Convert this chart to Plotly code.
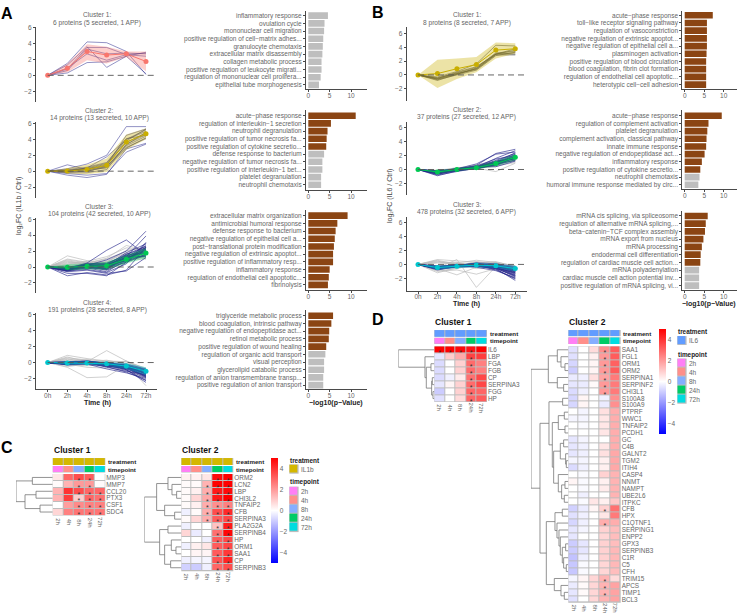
import plotly.graph_objects as go

W, H = 740, 615
TIMES = ["0h", "2h", "4h", "8h", "24h", "72h"]
HCOLS = ["2h", "4h", "8h", "24h", "72h"]
NAVY = "rgba(40,40,140,0.72)"
GRAY = "rgba(185,185,185,0.75)"
DGRAY = "rgba(70,70,70,0.8)"
BROWN = "#8B4513"
LGRAY = "#BEBEBE"
TXT = "#666666"
FONT = "Liberation Sans"
TP_COLORS = ["#FF7FF5", "#FF8F8A", "#85AEFF", "#00CC66", "#00DCE0"]
IL1B = "#D4B800"
IL6 = "#619CFF"

# ---------- line panels: protein trajectories ----------
A1_title = ["Cluster 1:", "6 proteins (5 secreted, 1 APP)"]
A1_app = [[0,1.5,4.2,4.1,3.0,0.1],[0,1.3,3.6,1.0,2.4,0.2],[0,0.3,1.6,1.7,2.4,2.9],
          [0,0.8,3.5,3.5,2.6,2.4],[0,0.9,2.7,1.9,2.6,2.8],[0,0.6,3.3,2.7,2.8,2.7]]
A1_other = []
A1_mean = [0,0.9,3.0,2.55,2.7,1.75]
A1_up = [0,1.45,3.9,3.6,3.0,3.0]
A1_lo = [0,0.4,1.9,1.5,2.3,0.5]

A2_title = ["Cluster 2:", "14 proteins (13 secreted, 10 APP)"]
A2_app = [[0,.3,.9,2.0,5.6,5.6],[0,.8,.2,.7,4.5,5.3],[0,-.5,-.8,-.4,2.8,3.5],[0,-.3,-.5,-.3,2.4,3.4],
          [0,.1,.4,1.8,4.0,5.2],[0,0,.2,.8,3.6,4.8],[0,-.1,0,.5,3.2,4.4],[0,.2,.5,1.1,4.0,5.0],
          [0,.0,.3,.6,3.0,4.1],[0,-.2,-.2,.2,3.4,4.6]]
A2_other = [[0,.1,.3,.9,3.8,5.3],[0,-.1,.0,.6,3.3,4.9],[0,0,.4,1.0,4.1,4.5],[0,.1,.2,.4,2.9,4.2]]
A2_mean = [0,0.03,.2,.75,3.65,4.7]
A2_up = [0,.4,.8,1.6,4.6,5.4]
A2_lo = [0,-.3,-.4,-.1,2.7,4.0]

A3_title = ["Cluster 3:", "104 proteins (42 secreted, 10 APP)"]
A3_other = [[0,1.4,.8,.5,1.5,2.0],[0,1.0,.6,.3,1.2,1.7],[0,.7,.4,.8,1.8,1.5],[0,.5,.7,1.3,2.4,2.2],
            [0,.3,.5,1.0,2.0,2.5],[0,.6,.2,-.2,.9,1.3],[0,-.2,.3,.7,1.7,1.3],[0,.2,-.1,.1,1.1,1.9],
            [0,.4,.6,.4,1.4,1.1],[0,-.4,-.2,.3,.8,1.4],[0,.1,.1,-.4,.6,1.6],[0,.8,.3,.6,2.1,2.4],
            [0,.9,.5,1.1,2.7,2.1],[0,.2,.4,-.1,1.0,1.0]]
A3_app = [[0,-.2,.5,2.1,3.4,1.5],[0,-.5,.2,.9,2.0,4.5],[0,-1.1,-.7,-1.0,-.4,2.5],[0,-.8,-.8,-1.1,.6,3.1],
          [0,-.3,.1,.2,1.3,3.9],[0,-.5,-.3,-.7,.4,3.0],[0,-.2,.0,-.3,1.0,2.4],[0,-.4,.3,.0,.8,2.2],
          [0,-.1,.4,.4,1.6,2.6],[0,-.6,-.4,-.8,-.5,1.2],[0,-.3,.2,-.2,1.2,2.0],[0,-.2,.1,.1,1.5,1.8],
          [0,-.4,.0,-.4,.7,1.6],[0,.0,.3,.3,1.1,1.4],[0,-.5,-.1,-.6,.9,2.3],[0,-.1,.2,.2,1.8,2.9],
          [0,-.3,.4,.5,1.4,2.2],[0,-.2,-.2,-.1,.6,1.5],[0,-.2,.2,.0,1.1,2.1],[0,-.3,.3,.1,.9,1.9],
          [0,-.1,0,-.2,1.4,1.7],[0,-.4,.1,.3,1.0,2.5],[0,-.2,.3,-.3,1.3,1.3],[0,-.1,.1,.2,.8,1.6],
          [0,-.3,0,0,1.6,2.4],[0,-.2,.2,.4,1.2,2.7]]
A3_mean = [0,-.03,.08,.15,.97,1.75]
A3_up = [0,.35,.45,.65,1.5,2.4]
A3_lo = [0,-.4,-.3,-.35,.45,1.1]

A4_title = ["Cluster 4:", "191 proteins (28 secreted, 8 APP)"]
A4_other = [[0,.9,.5,.2,.1,-1.0],[0,-.6,-1.9,-1.8,-.3,-2.9],[0,.2,.1,1.5,.2,-1.0],[0,.6,.3,-.1,.2,-.8],
            [0,.7,.1,.3,-.2,-1.3],[0,.4,.4,.1,.1,-.7],[0,-.3,-.4,-.3,-.5,-2.2],[0,.3,.2,-.4,-.6,-1.9],
            [0,-.5,-.2,.2,-.1,-.9],[0,.5,-.1,-.2,-.4,-1.5],[0,-.2,-.6,-.7,-.2,-1.1]]
A4_app = [[0,-.1,.1,-.2,-.6,-1.8],[0,0,.2,-.1,-.9,-2.5],[0,-.2,0,-.5,-1.2,-2.2],[0,-.1,-.1,-.4,-.7,-1.7],
          [0,.1,.2,-.1,-.5,-1.4],[0,-.3,-.2,-.8,-1.3,-2.0],[0,0,.1,0,-.4,-1.2],[0,-.1,0,-.3,-.8,-1.6],
          [0,-.2,-.1,-.2,-.5,-1.1],[0,.1,.1,-.1,-.3,-.9],[0,-.1,.1,-.4,-1.0,-1.9],[0,0,0,-.2,-.6,-1.3],
          [0,-.2,.1,-.6,-1.1,-1.5],[0,-.1,0,-.1,-.2,-.8],[0,-.3,-.1,-.3,-.9,-2.3],[0,0,.1,-.2,-.7,-1.0],
          [0,-.1,-.2,-.5,-.6,-1.6],[0,.1,0,-.3,-.4,-1.4],[0,0,.1,-.1,-.5,-1.0],[0,-.1,.1,-.2,-.3,-1.2],
          [0,-.1,0,-.2,-.4,-1.5],[0,0,-.1,-.3,-.5,-1.7],[0,-.2,0,-.1,-.6,-1.3],[0,-.1,-.1,0,-.4,-.9],
          [0,0,.1,-.3,-.8,-1.8],[0,-.2,-.1,-.4,-.7,-1.4]]
A4_mean = [0,-.05,-.05,-.15,-.45,-1.1]
A4_up = [0,.2,.15,.1,-.1,-.6]
A4_lo = [0,-.3,-.25,-.4,-.8,-1.6]

B1_title = ["Cluster 1:", "8 proteins (8 secreted, 7 APP)"]
B1_app = [[0,-.4,.2,.9,3.0,3.8],[0,-.7,.0,.7,2.8,3.3],[0,-.6,.1,.9,3.0,3.6],[0,-.3,.5,1.6,4.3,4.2],
          [0,-.5,.3,1.1,3.1,3.0],[0,-.6,.2,.8,2.9,2.9],[0,-.8,.1,1.0,3.2,3.4]]
B1_other = [[0,-.5,.4,1.2,3.0,3.2]]
B1_mean = [0,.2,.9,1.5,3.6,3.8]
B1_up = [0,2.2,2.4,2.6,4.7,4.6]
B1_lo = [0,-1.9,-.6,.4,2.4,3.1]

B2_title = ["Cluster 2:", "37 proteins (27 secreted, 12 APP)"]
B2_other = [[0,-.2,.1,.5,1.0,1.2],[0,-.4,.2,.4,.8,1.4],[0,-.1,.2,.7,1.2,1.6],[0,-.6,-.2,.1,.5,1.0],
            [0,-.3,.3,.2,.4,1.3],[0,-.5,0,.4,.9,1.9],[0,-.2,-.1,.2,-.3,.9],[0,-.7,-.1,.3,.7,1.5]]
B2_app = [[0,-.5,.0,.6,2.3,2.9],[0,-.6,-.2,.3,1.6,2.7],[0,-.3,.1,.8,2.2,2.5],[0,-.8,-.3,.2,1.0,2.2],
          [0,-.4,0,.3,1.1,1.9],[0,-.5,.1,.4,1.3,2.3],[0,-.3,-.1,.1,.7,1.6],[0,-.7,-.1,.2,.9,1.7],
          [0,-.4,.1,.5,1.5,2.0],[0,-.6,0,.2,.6,1.4],[0,-.2,.1,.3,.9,1.8],[0,-.9,-.2,.1,.8,2.1],
          [0,-.5,-.1,.3,1.2,1.5],[0,-.4,.0,.4,.4,1.2],[0,-.3,0,.2,.7,1.9],[0,-.4,-.1,.3,1.0,1.7],
          [0,-.5,0,.1,.8,1.3],[0,-.2,.1,.4,1.1,2.4],[0,-.6,-.1,.2,.9,1.6],[0,-.3,.1,.3,.6,1.8]]
B2_mean = [0,-.35,0,.25,.85,1.75]
B2_up = [0,-.1,.2,.5,1.2,2.2]
B2_lo = [0,-.6,-.2,0,.5,1.3]

B3_title = ["Cluster 3:", "478 proteins (32 secreted, 6 APP)"]
B3_other = [[0,.7,.5,.3,.2,-.6],[0,-.5,.7,-3.3,-.3,-.9],[0,-.6,-1.5,-.4,-.5,-1.0],[0,.4,.2,.6,.3,-.2],
            [0,-1.2,-.5,-.3,.1,-.4],[0,.5,-.3,.4,0,-.5],[0,-1.0,-.8,-1.4,-.6,-1.1],[0,.2,.1,.2,.4,-.3],
            [0,-.9,-.6,.1,.2,-.8],[0,.3,.3,-.6,-.4,-.2],[0,-.7,.2,-.2,.3,-1.3],[0,.6,0,.1,-.2,-.7]]
B3_app = [[0,-.3,-.1,-.2,-.6,-2.3],[0,-.5,-.3,-.1,-.8,-2.0],[0,-.7,-.4,-.3,-.5,-1.8],[0,-.4,-.2,.1,-.4,-1.5],
          [0,-.6,-.1,-.2,-.7,-2.1],[0,-.4,.0,-.1,-.3,-1.2],[0,-.5,-.2,.2,-.2,-1.0],[0,-.8,-.3,-.2,-.4,-1.6],
          [0,-.3,-.3,-.3,-.1,-.8],[0,-.4,-.2,-.1,.0,-.5],[0,-.6,-.4,.1,-.3,-1.4],[0,-.5,-.1,-.4,-.9,-1.9],
          [0,-.2,-.2,.2,.1,-.3],[0,-.7,-.3,0,-.2,-1.1],[0,-.4,0,-.2,-.5,-1.7],[0,-.6,-.2,-.1,-.1,-.6],
          [0,-.4,-.2,-.1,-.3,-.9],[0,-.5,-.3,0,-.4,-1.3],[0,-.6,-.2,-.2,-.2,-.7],[0,-.3,-.1,.1,-.3,-1.0],
          [0,-.5,-.2,0,-.6,-1.6],[0,-.4,-.3,-.2,-.1,-.4],[0,-.6,-.1,.1,-.2,-.8],[0,-.3,-.3,-.1,-.5,-1.2]]
B3_mean = [0,-.45,-.25,-.1,-.2,-.6]
B3_up = [0,-.15,.0,.2,.1,-.2]
B3_lo = [0,-.75,-.5,-.4,-.5,-1.0]

# ---------- enrichment bars ----------
A1_terms = ["inflammatory response","ovulation cycle","mononuclear cell migration","positive regulation of cell−matrix adhes...",
            "granulocyte chemotaxis","extracellular matrix disassembly","collagen metabolic process",
            "positive regulation of leukocyte migrati...","regulation of mononuclear cell prolifera...","epithelial tube morphogenesis"]
A1_vals = [4.6,3.8,3.7,3.5,3.4,3.3,3.1,3.1,2.9,2.5]
A1_sig = 0
A2_terms = ["acute−phase response","regulation of interleukin−1 secretion","neutrophil degranulation",
            "positive regulation of tumor necrosis fa...","positive regulation of cytokine secretio...","defense response to bacterium",
            "negative regulation of tumor necrosis fa...","positive regulation of interleukin−1 bet...","platelet degranulation","neutrophil chemotaxis"]
A2_vals = [11.1,5.3,4.5,4.3,4.2,3.7,3.3,3.3,3.0,3.0]
A2_sig = 5
A3_terms = ["extracellular matrix organization","antimicrobial humoral response","defense response to bacterium",
            "negative regulation of epithelial cell a...","post−translational protein modification","negative regulation of extrinsic apoptot...",
            "positive regulation of inflammatory resp...","inflammatory response","regulation of endothelial cell apoptotic...","fibrinolysis"]
A3_vals = [9.2,6.8,6.4,6.2,6.0,5.8,5.8,5.0,4.8,4.6]
A3_sig = 10
A4_terms = ["triglyceride metabolic process","blood coagulation, intrinsic pathway","negative regulation of endopeptidase act...",
            "retinol metabolic process","positive regulation of wound healing","regulation of organic acid transport","visual perception",
            "glycerolipid catabolic process","regulation of anion transmembrane transp...","positive regulation of anion transport"]
A4_vals = [5.8,5.4,4.9,4.8,4.2,4.0,3.7,3.7,3.5,3.5]
A4_sig = 5
B1_terms = ["acute−phase response","toll−like receptor signaling pathway","regulation of vasoconstriction",
            "negative regulation of extrinsic apoptot...","negative regulation of epithelial cell a...","plasminogen activation",
            "positive regulation of blood circulation","blood coagulation, fibrin clot formation","regulation of endothelial cell apoptotic...","heterotypic cell−cell adhesion"]
B1_vals = [7.2,5.7,5.7,5.7,5.7,5.6,5.5,5.5,5.5,5.5]
B1_sig = 10
B2_terms = ["acute−phase response","regulation of complement activation","platelet degranulation","complement activation, classical pathway",
            "innate immune response","negative regulation of endopeptidase act...","inflammatory response",
            "positive regulation of cytokine secretio...","neutrophil chemotaxis","humoral immune response mediated by circ..."]
B2_vals = [9.5,6.1,5.8,5.6,5.5,5.1,4.4,4.0,3.8,3.5]
B2_sig = 8
B3_terms = ["mRNA cis splicing, via spliceosome","regulation of alternative mRNA splicing,...","beta−catenin−TCF complex assembly",
            "mRNA export from nucleus","mRNA processing","endodermal cell differentiation","regulation of cardiac muscle cell action...",
            "mRNA polyadenylation","cardiac muscle cell action potential inv...","positive regulation of mRNA splicing, vi..."]
B3_vals = [5.9,5.4,5.2,4.8,4.4,4.1,4.0,3.7,3.7,3.7]
B3_sig = 7

# ---------- heatmaps ----------
C1_rows = ["MMP3","MMP7","CCL20","PTX3","CSF1","SDC4"]
C1_z = [[.5,3.0,3.5,3.2,0],[.1,1.5,2.0,2.0,.1],[1.5,4.0,3.5,3.0,3.0],[1.5,3.8,1.0,3.0,2.8],[0,1.9,2.3,2.5,2.5],[.8,2.5,2.7,2.7,2.7]]
C1_stars = [[2,3],[2,3],[2,3,4],[2,3,4],[2,3,4],[2,3,4]]
C1_tree = (110,(61,0,1),(83,(50,2,3),(38,4,5)))

C2_rows = ["ORM2","LCN2","LBP","CHI3L2","TNFAIP2","CFB","SERPINA3","PLA2G2A","SERPINB4","HP","ORM1","SAA1","CP","SERPINB3"]
C2_z = [[.3,.3,.5,4.8,5],[.1,.1,1.5,5,5],[.1,.3,1.6,4.5,4.8],[.1,.8,1.7,4.5,5],[.1,.3,1.6,2.2,2.5],[-.3,.1,1.6,3.5,4.2],
        [.1,.8,1.6,3.2,3.6],[-.3,0,0,1.2,4.5],[.8,-.4,0,2.8,4.9],[0,0,-.3,3.2,3.6],[-.3,.3,.5,3.2,3.6],[0,.2,.2,3.2,3.9],
        [-.3,-.2,-.2,3.4,4.3],[-.9,-1,-.3,3,3.5]]
C2_stars = [[3,4],[2,3,4],[2,3,4],[2,3,4],[2,3,4],[2,3,4],[2,3,4],[3,4],[3,4],[3,4],[3,4],[3,4],[3,4],[3,4]]
C2_tree = (111,(74,(40,0,(28,1,(14,2,3))),(50,4,(20,5,6))),(65,(40,7,8),(50,(30,9,(16,10,11)),(32,12,13))))

D1_rows = ["IL6","LBP","FGA","FGB","CP","SERPINA3","FGG","HP"]
D1_z = [[5,5,4.8,4.6,5],[-.5,1,1.7,3.7,3.8],[-.7,0,.9,2.9,2.5],[-.7,0,.9,2.9,2.5],[-.7,-.3,.4,2.8,3.6],[-.5,.2,.9,2.9,3.6],[-1,0,.9,3,3],[-.6,0,.7,3,3.2]]
D1_stars = [[0,1,2,3],[3],[3],[3],[3],[3],[3],[3]]
D1_tree = (108,0,(28,1,(24,(10,2,3),(8,(6,4,5),(4,6,7)))))

D2_rows = ["SAA1","FGL1","ORM1","ORM2","SERPINA1","SERPINF2","CHI3L1","S100A8","S100A9","PTPRF","WWC1","TNFAIP2","PCDH1",
           "GC","C4B","GALNT2","TGM2","ITIH4","CASP4","NNMT","NAMPT","UBE2L6","ITPKC","CFB","HPX","C1QTNF1","SERPING1","ENPP2",
           "GPX3","SERPINB3","C1R","C5","CFH","TRIM15","APCS","TIMP1","BCL3"]
D2_z = [[-.6,0,.7,2.2,3.2],[-.6,0,.3,2,3.2],[-.8,0,.2,2,3.1],[-1,0,.2,2,3.2],[-.4,-.3,.6,1.8,2.6],[-.5,-.4,.1,2,2.6],[-.7,-.3,0,2,2.6],
        [-.8,.2,0,-.3,2.2],[-.8,.2,0,-.4,2.2],[0,-.2,0,.6,1.6],[-.2,-.2,0,.5,1.6],[0,-.1,0,.5,1.6],[0,0,0,.5,1.6],
        [-.5,-.2,0,0,1.6],[-.5,-.3,0,.5,1.6],[-.5,-.3,0,.6,1.7],[-.2,-.2,0,.3,1.7],[-.7,-.3,0,.3,1.7],[0,-.1,0,.9,1.5],
        [.2,-.1,0,.3,1.5],[0,-.1,0,.4,1.5],[0,-.3,0,0,1.5],[0,-.1,.5,.3,1.1],[-.9,-.4,.2,.9,2.8],[-.6,-.3,0,.5,2.6],
        [-.8,-.3,0,1.6,1.6],[-.5,-.2,0,.9,1.3],[-.5,0,0,.8,1.3],[-1,-.5,0,.9,1.3],[-1,-.5,0,.9,1.4],[-1.2,-.3,0,.9,1.4],
        [-1.1,-.1,0,.8,1.4],[-1.1,-.1,0,.8,1.3],[-.2,.2,.8,1.5,.7],[-.4,.1,.8,1.5,1.8],[-.5,.1,.8,1.5,1.8],[-.6,0,.8,1.5,1.8]]
D2_stars = [[3]]*7 + [[] for _ in range(16)] + [[3],[],[3]] + [[] for _ in range(7)] + [[3],[3],[3],[]]
D2_tree = (112,
           (60,(33,0,(22,1,(10,2,3))),(33,4,(14,5,6))),
           (85,
            (58,(17,7,8),
             (48,(30,(12,9,10),(10,11,12)),
              (44,(24,(14,13,14),(8,15,(6,16,17))),(30,18,(20,(10,19,20),(12,21,22)))))),
            (66,(40,(18,23,24),(34,25,(28,26,(24,27,(18,(8,28,29),(14,30,(6,31,32))))))),
             (42,33,(22,34,(12,35,36))))))

# ---------- helpers ----------
fig = go.Figure()
layout = {}
shapes = []
annos = []
_n = 0

def dx(a, b):
    return [a / W, b / W]

def dy(top, bottom):
    return [1 - bottom / H, 1 - top / H]

def new_axes(left, right, top, bottom, xopt, yopt):
    global _n
    _n += 1
    sx = "" if _n == 1 else str(_n)
    base = dict(showgrid=False, zeroline=False)
    layout["xaxis" + sx] = dict(base, domain=dx(left, right), anchor="y" + sx, **xopt)
    layout["yaxis" + sx] = dict(base, domain=dy(top, bottom), anchor="x" + sx, **yopt)
    return "x" + sx, "y" + sx

def label(x, y, text, size=6.5, color=TXT, bold=False, anchor="center", angle=0):
    t = "<b>%s</b>" % text if bold else text
    annos.append(dict(x=x / W, y=1 - y / H, xref="paper", yref="paper", text=t, showarrow=False,
                      xanchor=anchor, yanchor="middle", textangle=angle, borderpad=0,
                      font=dict(family=FONT, size=size, color=color)))

tickfont = dict(family=FONT, size=6.5, color=TXT)
AX = dict(showline=True, linecolor="#4a4a4a", linewidth=1, ticks="outside", ticklen=2, tickcolor="#4a4a4a", tickfont=tickfont)

def rgba(hexc, a):
    h = hexc.lstrip("#")
    return "rgba(%d,%d,%d,%s)" % (int(h[:2], 16), int(h[2:4], 16), int(h[4:], 16), a)

def line_panel(left, right, x0, x5, top, bottom, y0px, y6px, title, tx, ty, other, app, mean, up, lo, col,
               fill_a=0.35, bottom_axis=False, app_color=NAVY, other_color=GRAY, lw=0.7):
    step = (x5 - x0) / 5
    upx = (y0px - y6px) / 6
    xr = [(left - x0) / step, (right - x0) / step]
    yr = [(y0px - bottom) / upx, (y0px - top) / upx]
    xopt = dict(type="category", categoryorder="array", categoryarray=TIMES, range=xr)
    if bottom_axis:
        xopt.update(AX, tickmode="linear", tick0=0, dtick=1, ticklabelstandoff=-2)
    else:
        xopt.update(visible=False)
    yopt = dict(AX, range=yr, tickvals=[-2, 0, 2, 4, 6])
    xa, ya = new_axes(left, right, top, bottom, xopt, yopt)
    for s in other:
        fig.add_trace(go.Scatter(x=TIMES, y=s, mode="lines", xaxis=xa, yaxis=ya, line=dict(color=other_color, width=lw), hoverinfo="skip"))
    for s in app:
        fig.add_trace(go.Scatter(x=TIMES, y=s, mode="lines", xaxis=xa, yaxis=ya, line=dict(color=app_color, width=lw), hoverinfo="skip"))
    fig.add_trace(go.Scatter(x=TIMES + TIMES[::-1], y=up + lo[::-1], mode="lines", fill="toself", xaxis=xa, yaxis=ya,
                             line=dict(width=0), fillcolor=rgba(col, fill_a), hoverinfo="skip"))
    fig.add_trace(go.Scatter(x=TIMES, y=mean, mode="lines+markers", xaxis=xa, yaxis=ya, line=dict(color=col, width=1),
                             marker=dict(color=col, size=5), hoverinfo="skip"))
    shapes.append(dict(type="line", xref=xa + " domain", yref=ya, x0=(x0 - left) / (right - left), x1=1, y0=0, y1=0,
                       line=dict(color="#555555", width=0.9, dash="6px,4px"), layer="above"))
    label(tx, ty, title[0], size=6.6)
    label(tx, ty + 8, title[1], size=6.6)

def bar_panel(left, x0, x10, right, top, bottom, first, last, terms, vals, sig, show_title=False):
    upx = (x10 - x0) / 10
    rstep = (last - first) / 9
    xr = [(left - x0) / upx, (right - x0) / upx]
    yr = [(bottom - first) / rstep, (top - first) / rstep]
    xopt = dict(AX, range=xr, tickvals=[0, 5, 10], ticklabelstandoff=-2)
    yopt = dict(AX, type="category", categoryorder="array", categoryarray=terms, range=yr, tickmode="linear", tick0=0, dtick=1)
    xa, ya = new_axes(left, right, top, bottom, xopt, yopt)
    colors = [BROWN if i < sig else LGRAY for i in range(len(vals))]
    fig.add_trace(go.Bar(x=vals, y=terms, orientation="h", xaxis=xa, yaxis=ya, width=0.86,
                         marker=dict(color=colors, line=dict(width=0)), hoverinfo="skip"))

def strip(left, right, top, bottom, z, colors, orient="h"):
    xa, ya = new_axes(left, right, top, bottom, dict(visible=False), dict(visible=False, autorange="reversed"))
    cs = [[i / max(len(colors) - 1, 1), c] for i, c in enumerate(colors)] if len(colors) > 1 else [[0, colors[0]], [1, colors[0]]]
    fig.add_trace(go.Heatmap(z=z, xaxis=xa, yaxis=ya, colorscale=cs, zmin=0, zmax=max(len(colors) - 1, 1), showscale=False,
                             xgap=1, ygap=1 if orient == "v" else 0, hoverinfo="skip"))
    shapes.append(dict(type="rect", xref=xa + " domain", yref=ya + " domain", x0=0, x1=1, y0=0, y1=1,
                       fillcolor="#BDBDBD", line=dict(width=0), layer="below"))

def tree_paths(node):
    if isinstance(node, int):
        return node, 0, [], []
    h, l, r = node
    yl, hl, xs1, ys1 = tree_paths(l)
    yr, hr, xs2, ys2 = tree_paths(r)
    xs = xs1 + xs2 + [hl, h, h, hr, None]
    ys = ys1 + ys2 + [yl, yl, yr, yr, None]
    return (yl + yr) / 2, h, xs, ys

def heat_panel(dleft, left, right, ttop, tbot, ptop, pbot, mtop, mbot, rows, z, stars, tree, trcol, title, coly, cbar=None):
    n = len(rows)
    strip(left, right, ttop, tbot, [[0] * 5], [trcol])
    strip(left, right, ptop, pbot, [[0, 1, 2, 3, 4]], TP_COLORS)
    xopt = dict(type="category", categoryorder="array", categoryarray=HCOLS, range=[-.5, 4.5], showline=False, ticks="",
                side="bottom", tickangle=90, tickfont=dict(family=FONT, size=6, color=TXT), showticklabels=False)
    yopt = dict(type="category", categoryorder="array", categoryarray=rows, range=[n - .5, -.5], side="right", showline=False,
                ticks="", ticklen=0, tickmode="linear", tick0=0, dtick=1, tickfont=dict(family=FONT, size=6.4, color=TXT))
    xa, ya = new_axes(left, right, mtop, mbot, xopt, yopt)
    shapes.append(dict(type="rect", xref=xa + " domain", yref=ya + " domain", x0=0, x1=1, y0=0, y1=1,
                       fillcolor="#BDBDBD", line=dict(width=0), layer="below"))
    hm = dict(z=z, x=HCOLS, y=rows, xaxis=xa, yaxis=ya, zmin=-5, zmax=5, xgap=1, ygap=1, hoverinfo="skip",
              colorscale=[[0, "#0000FF"], [0.5, "#FFFFFF"], [1, "#FF0000"]], showscale=cbar is not None)
    if cbar is not None:
        hm["colorbar"] = dict(x=cbar[0] / W, xanchor="left", y=1 - cbar[1] / H, yanchor="top", lenmode="pixels", len=cbar[2],
                              thicknessmode="pixels", thickness=7, tickvals=[-4, -2, 0, 2, 4], ticks="", outlinewidth=0,
                              tickfont=tickfont, xpad=0, ypad=0)
    fig.add_trace(go.Heatmap(**hm))
    sx = [HCOLS[j] for i, r in enumerate(stars) for j in r]
    sy = [rows[i] for i, r in enumerate(stars) for j in r]
    fig.add_trace(go.Scatter(x=sx, y=sy, mode="text", text=["*"] * len(sx), textposition="bottom center", xaxis=xa, yaxis=ya,
                             textfont=dict(family=FONT, size=7, color="#333333"), hoverinfo="skip"))
    _, root, xs, ys = tree_paths(tree)
    xa2, ya2 = new_axes(dleft, left, mtop, mbot, dict(visible=False, range=[root, 0]), dict(visible=False, range=[n - .5, -.5]))
    fig.add_trace(go.Scatter(x=xs, y=ys, mode="lines", xaxis=xa2, yaxis=ya2, line=dict(color="#777777", width=0.8), hoverinfo="skip"))
    label(left, ttop - 8.5, title, size=8.5, color="#111111", bold=True, anchor="left")
    label(right + 1.5, (ttop + tbot) / 2, "treatment", size=6.2, color="#222222", bold=True, anchor="left")
    label(right + 1.5, (ptop + pbot) / 2, "timepoint", size=6.2, color="#222222", bold=True, anchor="left")
    cw = (right - left) / 5
    for i, c in enumerate(HCOLS):
        label(left + cw * (i + .5), coly, c, size=6, angle=90)

def heat_legend(x, ty1, sw1t, sw1b, trname, trcol, ty2, sw2t, sw2b):
    label(x, ty1, "treatment", size=6.4, color="#222222", bold=True, anchor="left")
    strip(x, x + 9.3, sw1t, sw1b, [[0]], [trcol], "v")
    label(x + 11, (sw1t + sw1b) / 2, trname, anchor="left")
    label(x, ty2, "timepoint", size=6.4, color="#222222", bold=True, anchor="left")
    strip(x, x + 9.3, sw2t, sw2b, [[i] for i in range(5)], TP_COLORS, "v")
    rh = (sw2b - sw2t) / 5
    for i, c in enumerate(HCOLS):
        label(x + 11, sw2t + rh * (i + .5), c, anchor="left")

# ---------- panel A ----------
PINK, GOLD, GREEN, TEAL = "#F8766D", "#C9AE00", "#00C853", "#00C5CD"
line_panel(36, 157, 47.7, 146, 24, 99, 72.7, 24.7, A1_title, 96.7, 11.7, A1_other, A1_app, A1_mean, A1_up, A1_lo, PINK)
line_panel(36, 157, 47.7, 146, 120, 196, 169, 121, A2_title, 99, 108, A2_other, A2_app, A2_mean, A2_up, A2_lo, GOLD, other_color=DGRAY)
line_panel(36, 157, 47.7, 146, 216, 291.7, 265.3, 217.3, A3_title, 99, 204, A3_other, A3_app, A3_mean, A3_up, A3_lo, GREEN, lw=0.9)
line_panel(36, 157, 47.7, 146, 312, 388.3, 361.3, 313.3, A4_title, 97, 300.7, A4_other, A4_app, A4_mean, A4_up, A4_lo, TEAL, bottom_axis=True, lw=0.9)
bar_panel(306, 308.3, 351, 366.7, 8, 86.7, 12.7, 82.3, A1_terms, A1_vals, A1_sig)
bar_panel(306, 308.3, 351, 366.7, 108, 187.7, 113.3, 182.7, A2_terms, A2_vals, A2_sig)
bar_panel(306, 308.3, 351, 366.7, 208, 288.3, 213.7, 283.3, A3_terms, A3_vals, A3_sig)
bar_panel(306, 308.3, 351, 366.7, 309, 388.3, 314.3, 384, A4_terms, A4_vals, A4_sig)
label(97, 402, "Time (h)", size=7, color="#222222", bold=True)
label(336, 402, "−log10(p−Value)", size=7, color="#222222", bold=True)
label(19, 204, "log₂FC (IL1b / Ctrl)", size=7, color="#444444", angle=-90)

# ---------- panel B ----------
line_panel(406.7, 526.7, 418, 515.3, 24, 98.7, 72.3, 30.7, B1_title, 466.7, 12, B1_other, B1_app, B1_mean, B1_up, B1_lo, GOLD, app_color=DGRAY, other_color=DGRAY)
line_panel(406.7, 526.7, 418, 515.3, 120, 193.3, 167.3, 125.3, B2_title, 466.7, 106.7, B2_other, B2_app, B2_mean, B2_up, B2_lo, GREEN, lw=0.9)
line_panel(406.7, 526.7, 418, 515.3, 215, 289, 262.7, 220.7, B3_title, 466.7, 202, B3_other, B3_app, B3_mean, B3_up, B3_lo, TEAL, bottom_axis=True, lw=0.9)
bar_panel(682.3, 684.7, 723.7, 736.7, 8, 86.7, 12.3, 82, B1_terms, B1_vals, B1_sig)
bar_panel(682.3, 684.7, 723.7, 736.7, 108, 187.3, 113.3, 182.7, B2_terms, B2_vals, B2_sig)
bar_panel(682.3, 684.7, 723.7, 736.7, 209, 288.3, 214, 284, B3_terms, B3_vals, B3_sig)
label(466.7, 302.5, "Time (h)", size=7, color="#222222", bold=True)
label(709, 302.5, "−log10(p−Value)", size=7, color="#222222", bold=True)
label(390, 194, "log₂FC (IL6 / Ctrl)", size=7, color="#444444", angle=-90)

# ---------- panels C, D ----------
heat_panel(16, 52.7, 105.3, 457.3, 464.3, 465.3, 471.7, 473.3, 515, C1_rows, C1_z, C1_stars, C1_tree, IL1B, "Cluster 1", 521.7)
heat_panel(144.3, 181.3, 233.3, 457.3, 464.3, 465.3, 471.7, 473.3, 571, C2_rows, C2_z, C2_stars, C2_tree, IL1B, "Cluster 2", 576.7,
           cbar=(271.3, 457, 104.7))
heat_legend(289.3, 459.3, 463.7, 473, "IL1b", IL1B, 481.7, 486, 531.7)
heat_panel(398.3, 434.3, 487, 328.7, 335.3, 336.3, 342.7, 345, 401, D1_rows, D1_z, D1_stars, D1_tree, IL6, "Cluster 1", 406.7)
heat_panel(531, 568.3, 620.7, 328.7, 335, 336, 342.7, 345, 602.7, D2_rows, D2_z, D2_stars, D2_tree, IL6, "Cluster 2", 608,
           cbar=(659.3, 328, 104.7))
heat_legend(677.3, 330.3, 334.7, 343.7, "IL6", IL6, 353.3, 357.3, 402.7)

for txt, x, y in [("A", 7, 11), ("B", 378, 10), ("C", 7, 447), ("D", 378, 318)]:
    label(x, y, txt, size=16, color="#000000", bold=True)

fig.update_layout(**layout)
fig.update_layout(width=W, height=H, margin=dict(l=0, r=0, t=0, b=0, pad=0), showlegend=False,
                  paper_bgcolor="white", plot_bgcolor="rgba(0,0,0,0)", barmode="overlay",
                  font=dict(family=FONT, size=6.5, color=TXT), shapes=shapes, annotations=annos)
fig.write_html("out.html", config={"displayModeBar": False},
               post_script="document.documentElement.style.margin='0';document.body.style.margin='0';document.body.style.overflow='hidden';")
